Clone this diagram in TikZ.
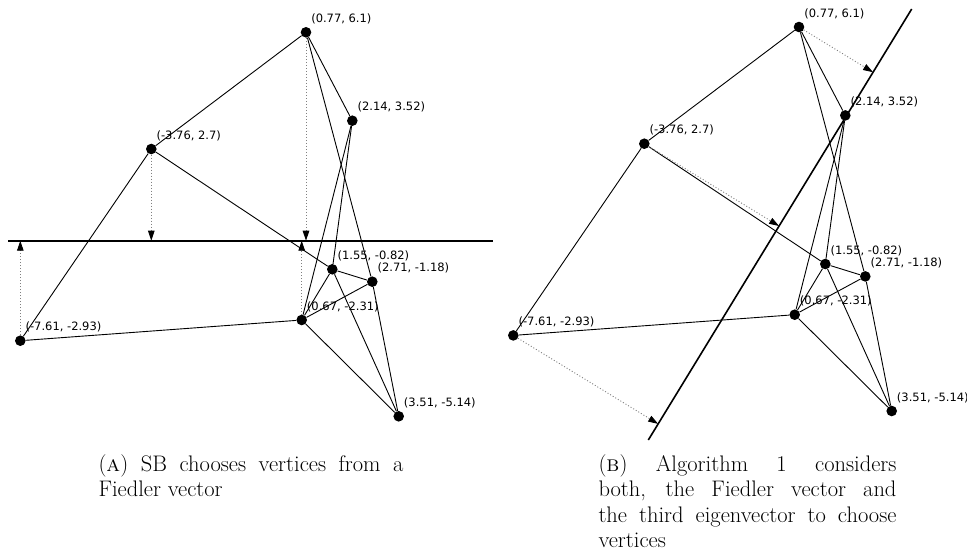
\documentclass[tikz,border=0pt]{standalone}
\usepackage{fontspec}
\usepackage{tikz}
\usetikzlibrary{arrows.meta,calc}
\newfontfamily\coordfont{DejaVu Sans}
\tikzstyle{vertex} = [circle, fill=black, inner sep=0pt, minimum size=10.6pt]
\tikzstyle{coord} = [font=\coordfont\fontsize{11.5}{13}\selectfont, inner sep=0pt, xshift=1.2pt, yshift=4.2pt]
\tikzstyle{edge} = [line width=0.9pt]
\tikzstyle{axis} = [line width=1.6pt]
\tikzstyle{proj} = [line width=0.9pt, black!50, dash pattern=on 1pt off 2pt, -{Triangle[length=10pt, width=6.5pt, black]}]
\tikzstyle{caption} = [anchor=north west, inner sep=0pt, align=justify, font=\fontsize{22.5}{25.5}\selectfont]

\begin{document}
\begin{tikzpicture}[x=1pt, y=-1pt]
        \useasboundingbox (0,0) rectangle (967,550);
        % same graph in both panels, right one shifted
        \foreach \p/\dx/\dy in {l/0/0, r/493/-5.3}{
            \begin{scope}[shift={(\dx,\dy)}]
                \node(\p A) [vertex, label={[coord]above right:{(0.77, 6.1)}}] at (306,32.3) {};
                \node(\p B) [vertex, label={[coord]above right:{(2.14, 3.52)}}] at (352.3,120.7) {};
                \node(\p C) [vertex, label={[coord]above right:{(-3.76, 2.7)}}] at (151.3,149) {};
                \node(\p D) [vertex, label={[coord]above right:{(1.55, -0.82)}}] at (332.3,269.3) {};
                \node(\p E) [vertex, label={[coord]above right:{(2.71, -1.18)}}] at (372.3,281.7) {};
                \node(\p F) [vertex, label={[coord]above right:{(0.67, -2.31)}}] at (301.7,320) {};
                \node(\p G) [vertex, label={[coord]above right:{(-7.61, -2.93)}}] at (20.3,340.7) {};
                \node(\p H) [vertex, label={[coord]above right:{(3.51, -5.14)}}] at (398.7,416.3) {};
            \end{scope}
            \foreach \u/\v in {A/C, A/B, A/E, E/H, B/D, B/F, C/G, C/D, D/E, D/F, D/H, E/F, F/G, F/H}
                \draw[edge] (\p\u) -- (\p\v);
        }
        % (a) Fiedler vector only
        \coordinate(lL) at (8,240.7);
        \coordinate(lR) at (492.7,240.7);
        \draw[axis] (lL) -- (lR);
        \foreach \v in {G, C, A, F}
            \draw[proj] (l\v) -- ($(lL)!(l\v)!(lR)$);
        % (b) Fiedler and third eigenvector
        \coordinate(rT) at (911.7,9);
        \coordinate(rB) at (648.3,440);
        \draw[axis] (rT) -- (rB);
        \foreach \v in {A, C, G}
            \draw[proj] (r\v) -- ($(rT)!(r\v)!(rB)$);
        \node(capA) [caption, text width=305pt] at (98.3,454) {(\textsc{a}) SB chooses vertices from a\linebreak Fiedler vector};
        \node(capB) [caption, text width=298pt] at (598.3,454) {(\textsc{b}) Algorithm 1 considers\linebreak both, the Fiedler vector and\linebreak the third eigenvector to choose\linebreak vertices};
\end{tikzpicture}
\end{document}
